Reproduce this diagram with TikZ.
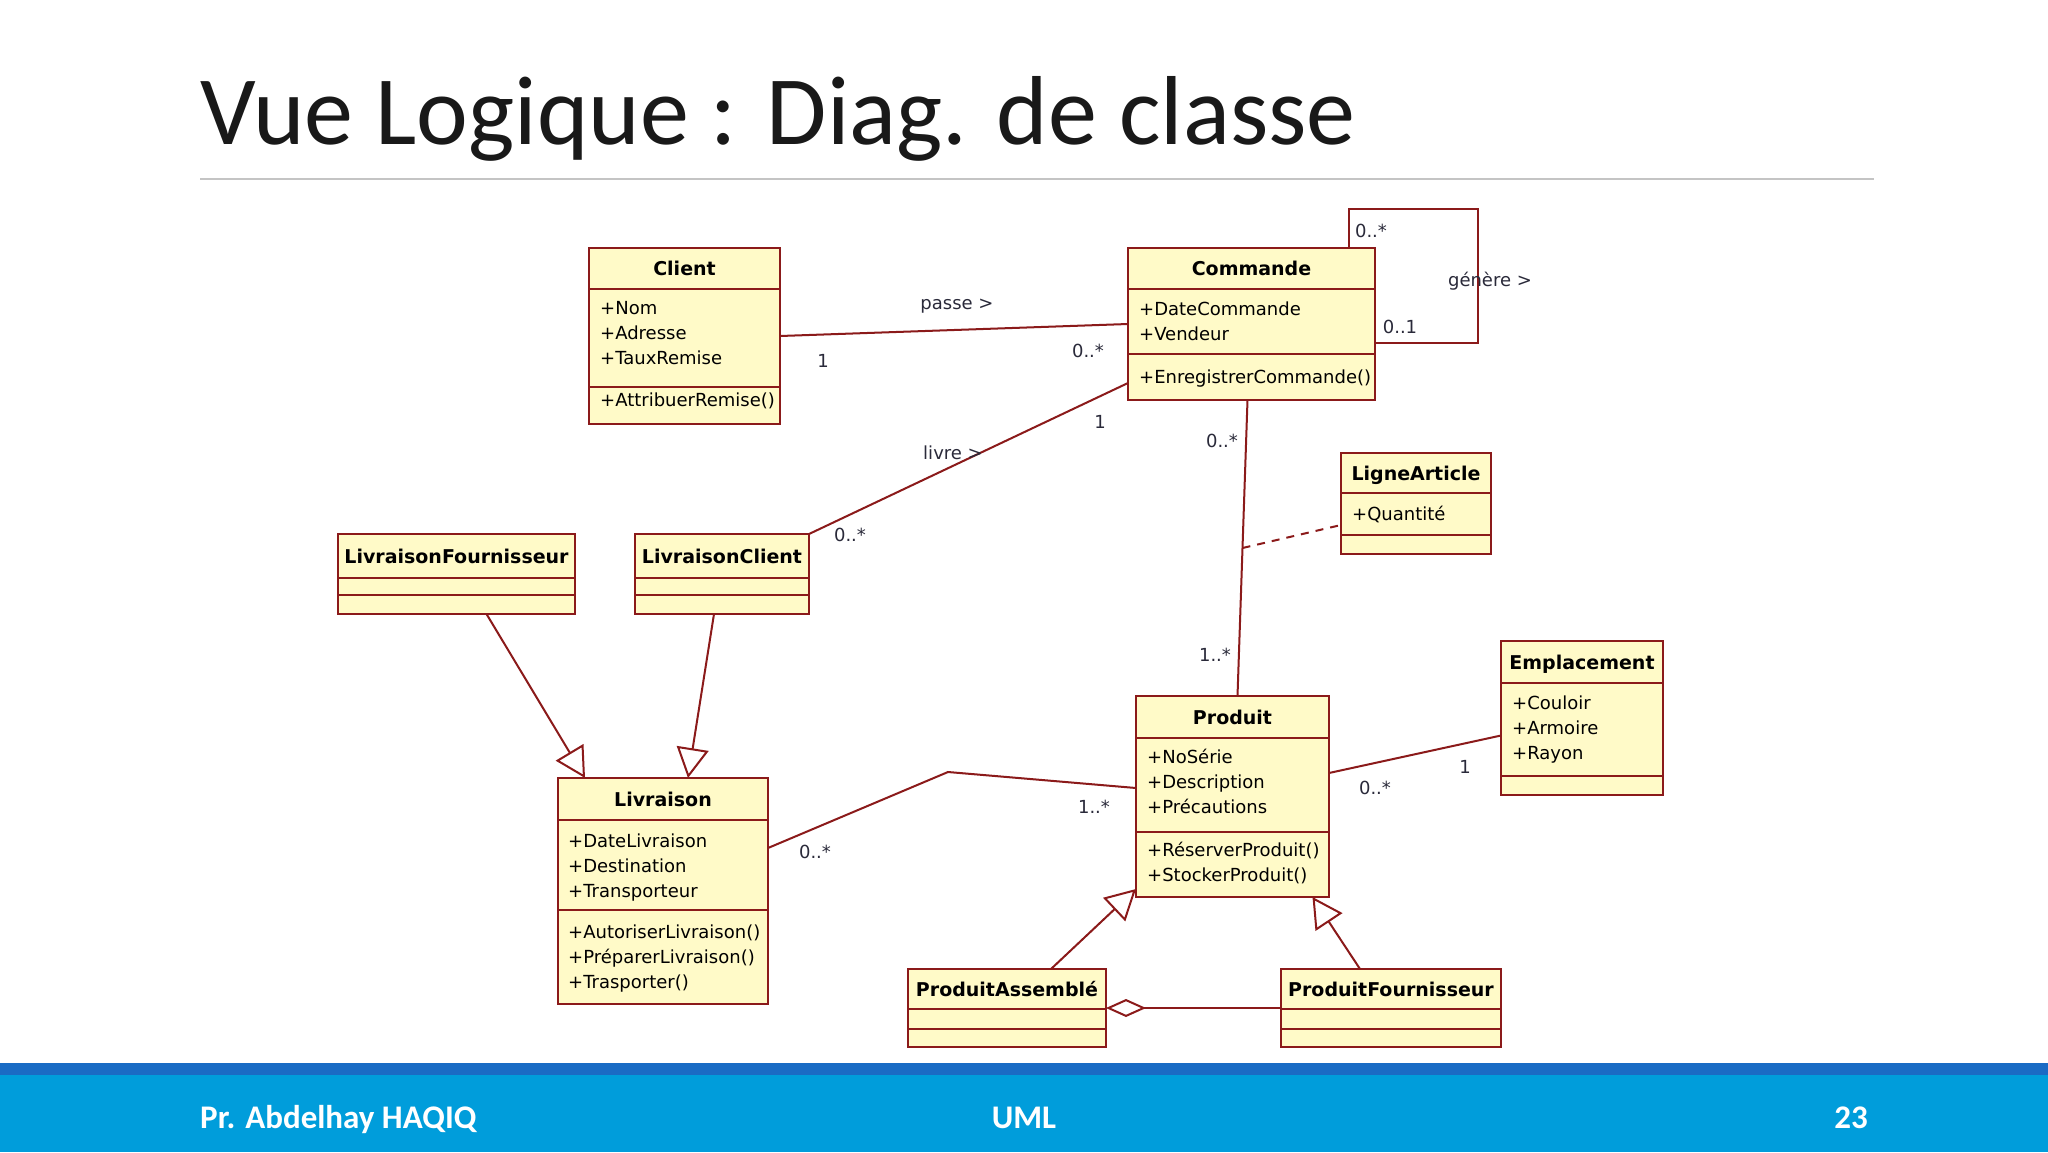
\documentclass[tikz,border=0pt]{standalone}
\usepackage{fontspec}
\setmainfont{DejaVu Sans}
\newfontfamily\titlefont{Carlito}
\usetikzlibrary{arrows.meta,calc}
\definecolor{umlborder}{HTML}{8B1A1A}
\definecolor{umlfill}{HTML}{FFFAC8}
\definecolor{barblue}{HTML}{009DDB}
\definecolor{bardark}{HTML}{1A6BC4}
\definecolor{rulegray}{HTML}{C4C4C4}
\definecolor{multc}{HTML}{2A2A3A}
\tikzset{
 classbox/.style={draw=umlborder, fill=umlfill, line width=2.4pt, inner sep=0pt, outer sep=0pt, anchor=north west},
 divline/.style={draw=umlborder, line width=2.2pt},
 hdr/.style={font=\fontsize{19}{22}\selectfont\bfseries, anchor=base, inner sep=0pt, text=black},
 attr/.style={font=\fontsize{18}{22}\selectfont, anchor=base west, inner sep=0pt, text=black},
 mult/.style={font=\fontsize{18}{22}\selectfont, inner sep=0pt, text=multc},
 assoc/.style={draw=umlborder, line width=2pt},
 gen/.style={assoc, -{Triangle[open, length=30pt, width=32pt, line width=2pt]}},
 aggr/.style={assoc, -{Diamond[open, length=40pt, width=18pt, line width=2pt]}},
 dep/.style={assoc, dash pattern=on 8pt off 7pt},
 foot/.style={font=\titlefont\bfseries\fontsize{33}{36}\selectfont, text=white, inner sep=0pt},
}
\newcommand\umlclass[8]{%
 \node[classbox, minimum width={#4-#2}, minimum height={#5-#3}] (#1) at (#2,#3) {};
 \draw[divline] (#2,#6) -- (#4,#6);
 \draw[divline] (#2,#7) -- (#4,#7);
 \node[hdr] (#1-name) at ({(#2+#4)/2},{(#3+#6)/2+7}) {#8};
}
\newcommand\umlattrs[4]{%
 \foreach \txt [count=\i] in {#4} {
  \node[attr] (#1-\i) at (#2, {#3+6.5+(\i-1)*25}) {\txt};
 }
}
\begin{document}
\begin{tikzpicture}[x=1pt,y=-1pt]
\useasboundingbox (0,0) rectangle (2048,1152);
\fill[white] (0,0) rectangle (2048,1152);

% title
\node[font=\titlefont\fontsize{98}{110}\selectfont, anchor=base west, inner sep=0pt, text=black!90] (title) at (200,144) {Vue Logique : Diag. de classe};
\draw[rulegray, line width=1.5pt] (200,179) -- (1874,179);

% footer
\fill[barblue] (0,1063) rectangle (2048,1152);
\fill[bardark] (0,1063) rectangle (2048,1075);
\node[foot, anchor=base west] (author) at (200,1128) {Pr. Abdelhay HAQIQ};
\node[foot, anchor=base] (course) at (1024,1128) {UML};
\node[foot, anchor=base east] (page) at (1868,1128) {23};

% classes
\umlclass{client}{589}{248}{780}{424}{289}{387}{Client}
\umlattrs{clienta}{600}{308}{+Nom,+Adresse,+TauxRemise}
\umlattrs{cliento}{600}{400}{+AttribuerRemise()}

\umlclass{commande}{1128}{248}{1375}{400}{289}{354}{Commande}
\umlattrs{commandea}{1139}{309}{+DateCommande,+Vendeur}
\umlattrs{commandeo}{1139}{377}{+EnregistrerCommande()}

\umlclass{ligne}{1341}{453}{1491}{554}{493}{535}{LigneArticle}
\umlattrs{lignea}{1352}{514}{+Quantité}

\umlclass{livfour}{338}{534}{575}{614}{578}{595}{LivraisonFournisseur}
\umlclass{livclient}{635}{534}{809}{614}{578}{595}{LivraisonClient}

\umlclass{livraison}{558}{778}{768}{1004}{820}{910}{Livraison}
\umlattrs{livraisona}{568}{841}{+DateLivraison,+Destination,+Transporteur}
\umlattrs{livraisono}{568}{932}{+AutoriserLivraison(),+PréparerLivraison(),+Trasporter()}

\umlclass{produit}{1136}{696}{1329}{897}{738}{832}{Produit}
\umlattrs{produita}{1147}{757}{+NoSérie,+Description,+Précautions}
\umlattrs{produito}{1147}{850}{+RéserverProduit(),+StockerProduit()}

\umlclass{emplacement}{1501}{641}{1663}{795}{683}{776}{Emplacement}
\umlattrs{emplacementa}{1512}{703}{+Couloir,+Armoire,+Rayon}

\umlclass{prodass}{908}{969}{1106}{1047}{1009}{1029}{ProduitAssemblé}
\umlclass{prodfour}{1281}{969}{1501}{1047}{1009}{1029}{ProduitFournisseur}

% connectors
\draw[assoc] (client.east) -- (commande.west);
\draw[assoc] ([yshift=17pt]commande.south west) -- (livclient.north east);
\draw[assoc] ([xshift=-4pt]commande.south) -- coordinate (cpmid) ([xshift=5pt]produit.north);
\draw[dep] (cpmid) -- ([yshift=-21.5pt]ligne.west);
\coordinate (looptr) at (1478,209);
\draw[assoc] ([xshift=-26pt]commande.north east) |- (looptr) |- ([yshift=-19pt]commande.east);
\coordinate (lpbend) at (948,772);
\draw[assoc] ([yshift=43pt]livraison.east) -- (lpbend) -- ([yshift=8.5pt]produit.west);
\draw[assoc] ([yshift=23.5pt]produit.east) -- ([yshift=-17.5pt]emplacement.west);
\draw[gen] ([xshift=30pt]livfour.south) -- ([xshift=27pt]livraison.north west);
\draw[gen] ([xshift=-8pt]livclient.south) -- ([xshift=130pt]livraison.north west);
\draw[gen] ([xshift=44pt]prodass.north) -- ([yshift=8pt]produit.south west);
\draw[gen] ([xshift=-31pt]prodfour.north) -- ([xshift=80pt]produit.south);
\draw[aggr] (prodfour.west) -- (prodass.east);

% labels
\node[mult] (l-passe) at (957,306) {passe >};
\node[mult] (m-cl1) at (823,361) {1};
\node[mult] (m-cl2) at (1088,351) {0..*};
\node[mult] (l-livre) at (953,453) {livre >};
\node[mult] (m-lv1) at (1100,422) {1};
\node[mult] (m-lv2) at (850,535) {0..*};
\node[mult] (m-cp1) at (1222,441) {0..*};
\node[mult] (m-cp2) at (1215,655) {1..*};
\node[mult] (m-lp1) at (815,852) {0..*};
\node[mult] (m-lp2) at (1094,807) {1..*};
\node[mult] (m-pe1) at (1375,788) {0..*};
\node[mult] (m-pe2) at (1465,767) {1};
\node[mult] (m-lo1) at (1371,231) {0..*};
\node[mult] (m-lo2) at (1400,327) {0..1};
\node[mult] (l-genere) at (1490,281) {génère >};
\end{tikzpicture}
\end{document}
